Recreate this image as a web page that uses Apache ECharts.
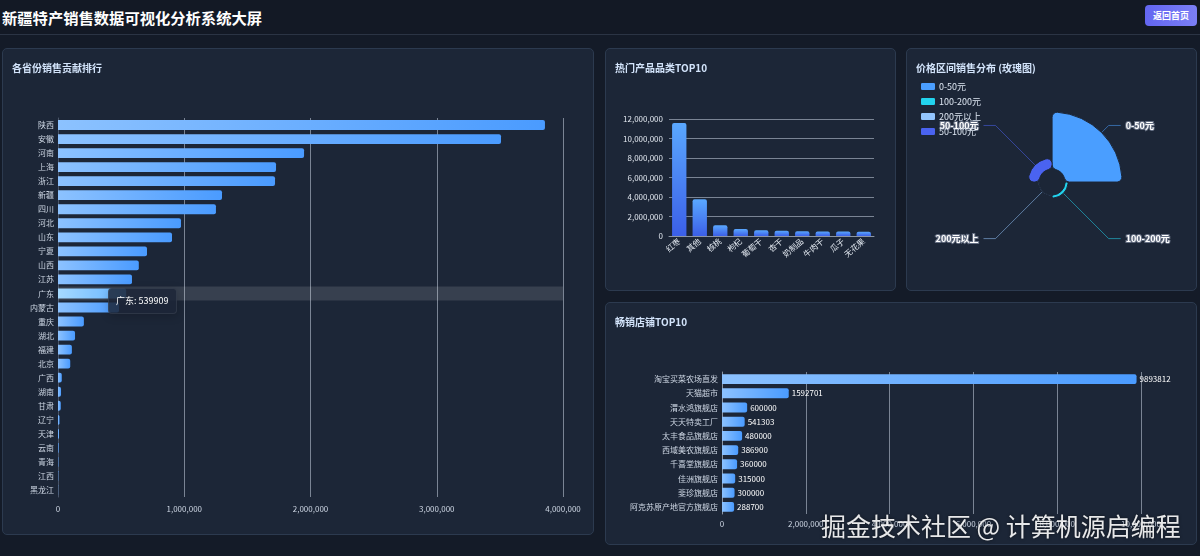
<!DOCTYPE html>
<html>
<head>
<meta charset="utf-8">
<script src="https://cdn.jsdelivr.net/npm/echarts@6/dist/echarts.min.js"></script>
<style>
  html, body { margin: 0; padding: 0; width: 1200px; height: 556px; overflow: hidden; background: #141b28; font-family: "Noto Sans CJK SC", "Noto Sans", sans-serif; }
  #header { position: absolute; left: 0; top: 0; width: 1200px; height: 34px; background: #131925; border-bottom: 1px solid #2b3444; }
  #title { position: absolute; left: 2px; top: 6px; font-size: 15.3px; font-weight: bold; color: #ffffff; }
  #btn { position: absolute; left: 1145px; top: 5px; width: 52px; height: 21px; border-radius: 4px; background: linear-gradient(90deg, #6366f1, #7b7ff6); color: #fff; font-size: 9px; font-weight: bold; line-height: 21px; text-align: center; }
  .panel { position: absolute; background: #1c2637; border: 1px solid #2c3a4f; border-radius: 5px; box-sizing: border-box; }
  .ptitle { position: absolute; left: 9px; top: 11px; font-size: 10px; font-weight: bold; color: #d3e4fb; z-index: 2; }
  .chart { position: absolute; left: 0; top: 0; width: 100%; height: 100%; }
  #wm { position: absolute; left: 821px; top: 507px; font-size: 25px; color: rgba(255,255,255,0.9); text-shadow: 0 0 3px rgba(0,0,0,0.6); white-space: nowrap; z-index: 5; }
</style>
</head>
<body>
<div id="header"><div id="title">新疆特产销售数据可视化分析系统大屏</div><div id="btn">返回首页</div></div>

<div class="panel" style="left:2px;top:48px;width:592px;height:487px;">
  <div class="ptitle">各省份销售贡献排行</div>
  <div id="c1" class="chart"></div>
</div>
<div class="panel" style="left:605px;top:48px;width:291px;height:243px;">
  <div class="ptitle">热门产品品类TOP10</div>
  <div id="c2" class="chart"></div>
</div>
<div class="panel" style="left:906px;top:48px;width:291px;height:243px;">
  <div class="ptitle">价格区间销售分布 (玫瑰图)</div>
  <div id="c3" class="chart"></div>
</div>
<div class="panel" style="left:605px;top:302px;width:592px;height:243px;">
  <div class="ptitle">畅销店铺TOP10</div>
  <div id="c4" class="chart"></div>
</div>
<div id="wm">掘金技术社区 @ 计算机源启编程</div>

<script>
// ---------- data ----------
const provinces = ['陕西','安徽','河南','上海','浙江','新疆','四川','河北','山东','宁夏','山西','江苏','广东','内蒙古','重庆','湖北','福建','北京','广西','湖南','甘肃','辽宁','天津','云南','青海','江西','黑龙江'];
const provinceSales = [3857000, 3509000, 1949000, 1727000, 1719000, 1299000, 1251000, 974000, 903000, 705000, 640000, 586000, 539909, 483000, 205000, 135000, 110000, 97000, 30000, 24000, 22000, 12000, 8000, 5000, 3000, 2000, 1000];
const provinceTicks = [0, 1000000, 2000000, 3000000, 4000000];

const products = ['红枣','其他','核桃','枸杞','葡萄干','杏干','奶制品','牛肉干','瓜子','无花果'];
const productSales = [11600000, 3770000, 1100000, 720000, 600000, 540000, 500000, 470000, 460000, 430000];

const priceRanges = ['0-50元','100-200元','200元以上','50-100元'];
const priceSales = [10000000, 530000, 90000, 1930000];
const priceColors = ['#4a9eff', '#22d3ee', '#93c5fd', '#4a63f0'];

const stores = ['淘宝买菜农场直发','天猫超市','渭水鸿旗舰店','天天特卖工厂','太丰食品旗舰店','西域美农旗舰店','千喜堂旗舰店','佳洲旗舰店','斐珍旗舰店','阿克苏原产地官方旗舰店'];
const storeSales = [9893812, 1592701, 600000, 541303, 480000, 386900, 360000, 315000, 300000, 288700];

// ---------- helpers ----------
const FONT = '"Noto Sans CJK SC", "Noto Sans", sans-serif';
const fmt = v => Number(v).toLocaleString('en-US');
const labelColor = '#cdd6e3';
const splitColor = 'rgba(200,210,225,0.55)';
const hGrad = new echarts.graphic.LinearGradient(0, 0, 1, 0, [
  { offset: 0, color: '#8cc2ff' }, { offset: 1, color: '#4a9bff' }
]);
const vGrad = new echarts.graphic.LinearGradient(0, 0, 0, 1, [
  { offset: 0, color: '#5aa8ff' }, { offset: 1, color: '#3b5fe8' }
]);

// ---------- chart 1: provinces ----------
const c1 = echarts.init(document.getElementById('c1'));
c1.setOption({
  animation: false,
  textStyle: { fontFamily: FONT },
  grid: { left: 55, right: 30, top: 69, bottom: 37, containLabel: false },
  tooltip: {
    trigger: 'axis', alwaysShowContent: true, transitionDuration: 0,
    axisPointer: { type: 'shadow', shadowStyle: { color: 'rgba(255,255,255,0.12)' } },
    backgroundColor: 'rgba(28,38,55,0.85)', borderColor: 'rgba(255,255,255,0.08)', borderWidth: 1,
    padding: [5, 7], textStyle: { color: '#ffffff', fontSize: 9, fontFamily: FONT },
    position: [105, 239],
    formatter: p => p[0].name + ': ' + p[0].value
  },
  xAxis: {
    type: 'value', min: 0, max: 4000000, interval: 1000000,
    axisLine: { show: false }, axisTick: { show: false },
    axisLabel: { color: labelColor, fontSize: 8, formatter: fmt, margin: 8 },
    splitLine: { lineStyle: { color: splitColor, width: 1 } }
  },
  yAxis: {
    type: 'category', data: provinces, inverse: true,
    axisLine: { lineStyle: { color: '#4a5568' } }, axisTick: { show: false },
    axisLabel: { color: labelColor, fontSize: 8, margin: 4 }
  },
  series: [{
    type: 'bar', data: provinceSales, barWidth: '70%',
    itemStyle: { color: hGrad, borderRadius: [0, 2, 2, 0] }
  }]
});
c1.dispatchAction({ type: 'showTip', seriesIndex: 0, dataIndex: 12 });

// ---------- chart 2: products ----------
const c2 = echarts.init(document.getElementById('c2'));
c2.setOption({
  animation: false,
  textStyle: { fontFamily: FONT },
  grid: { left: 63, right: 21, top: 70, bottom: 54, containLabel: false },
  xAxis: {
    type: 'category', data: products,
    axisLine: { lineStyle: { color: '#8c96a4' } }, axisTick: { show: false },
    axisLabel: { color: '#e2e8f0', fontSize: 8, rotate: 40, interval: 0, margin: 4 }
  },
  yAxis: {
    type: 'value', min: 0, max: 12000000, interval: 2000000,
    axisLine: { show: false }, axisTick: { show: false },
    axisLabel: { color: '#e2e8f0', fontSize: 8, formatter: fmt, margin: 6 },
    splitLine: { lineStyle: { color: splitColor } }
  },
  series: [{
    type: 'bar', data: productSales, barWidth: '70%',
    itemStyle: { color: vGrad, borderRadius: [2, 2, 0, 0] }
  }]
});

// ---------- chart 3: price rose ----------
const c3 = echarts.init(document.getElementById('c3'));
c3.setOption({
  animation: false,
  textStyle: { fontFamily: FONT },
  color: priceColors,
  legend: {
    orient: 'vertical', left: 12, top: 32, padding: 0, itemWidth: 16, itemHeight: 9, itemGap: 4,
    icon: 'roundRect',
    textStyle: { color: '#dde6f2', fontSize: 9, fontFamily: FONT, padding: [0, 0, 0, -2] },
    data: priceRanges
  },
  series: [{
    type: 'pie', roseType: 'area', center: ['50.2%', '55.2%'], radius: [13, 70],
    startAngle: 90,
    itemStyle: { borderRadius: 5, borderColor: '#1c2637', borderWidth: 1 },
    label: {
      color: '#ffffff', fontSize: 9, fontWeight: 'bold',
      textBorderColor: 'rgba(110,120,140,0.9)', textBorderWidth: 2
    },
    labelLine: { length: 10, length2: 12, lineStyle: { width: 1, opacity: 0.55 } },
    data: priceRanges.map((n, i) => ({ name: n, value: priceSales[i] }))
  }]
});

// ---------- chart 4: stores ----------
const c4 = echarts.init(document.getElementById('c4'));
c4.setOption({
  animation: false,
  textStyle: { fontFamily: FONT },
  grid: { left: 116, right: 55, top: 69, bottom: 30, containLabel: false },
  xAxis: {
    type: 'value', min: 0, max: 10000000, interval: 2000000,
    axisLine: { show: false }, axisTick: { show: false },
    axisLabel: { color: labelColor, fontSize: 8, formatter: fmt, margin: 6 },
    splitLine: { lineStyle: { color: splitColor } }
  },
  yAxis: {
    type: 'category', data: stores, inverse: true,
    axisLine: { lineStyle: { color: '#8c96a4' } }, axisTick: { show: false },
    axisLabel: { color: labelColor, fontSize: 8, margin: 4 }
  },
  series: [{
    type: 'bar', data: storeSales, barWidth: '70%',
    itemStyle: { color: hGrad, borderRadius: [0, 2, 2, 0] },
    label: { show: true, position: 'right', color: '#ffffff', fontSize: 8, distance: 3 }
  }]
});
</script>
</body>
</html>
